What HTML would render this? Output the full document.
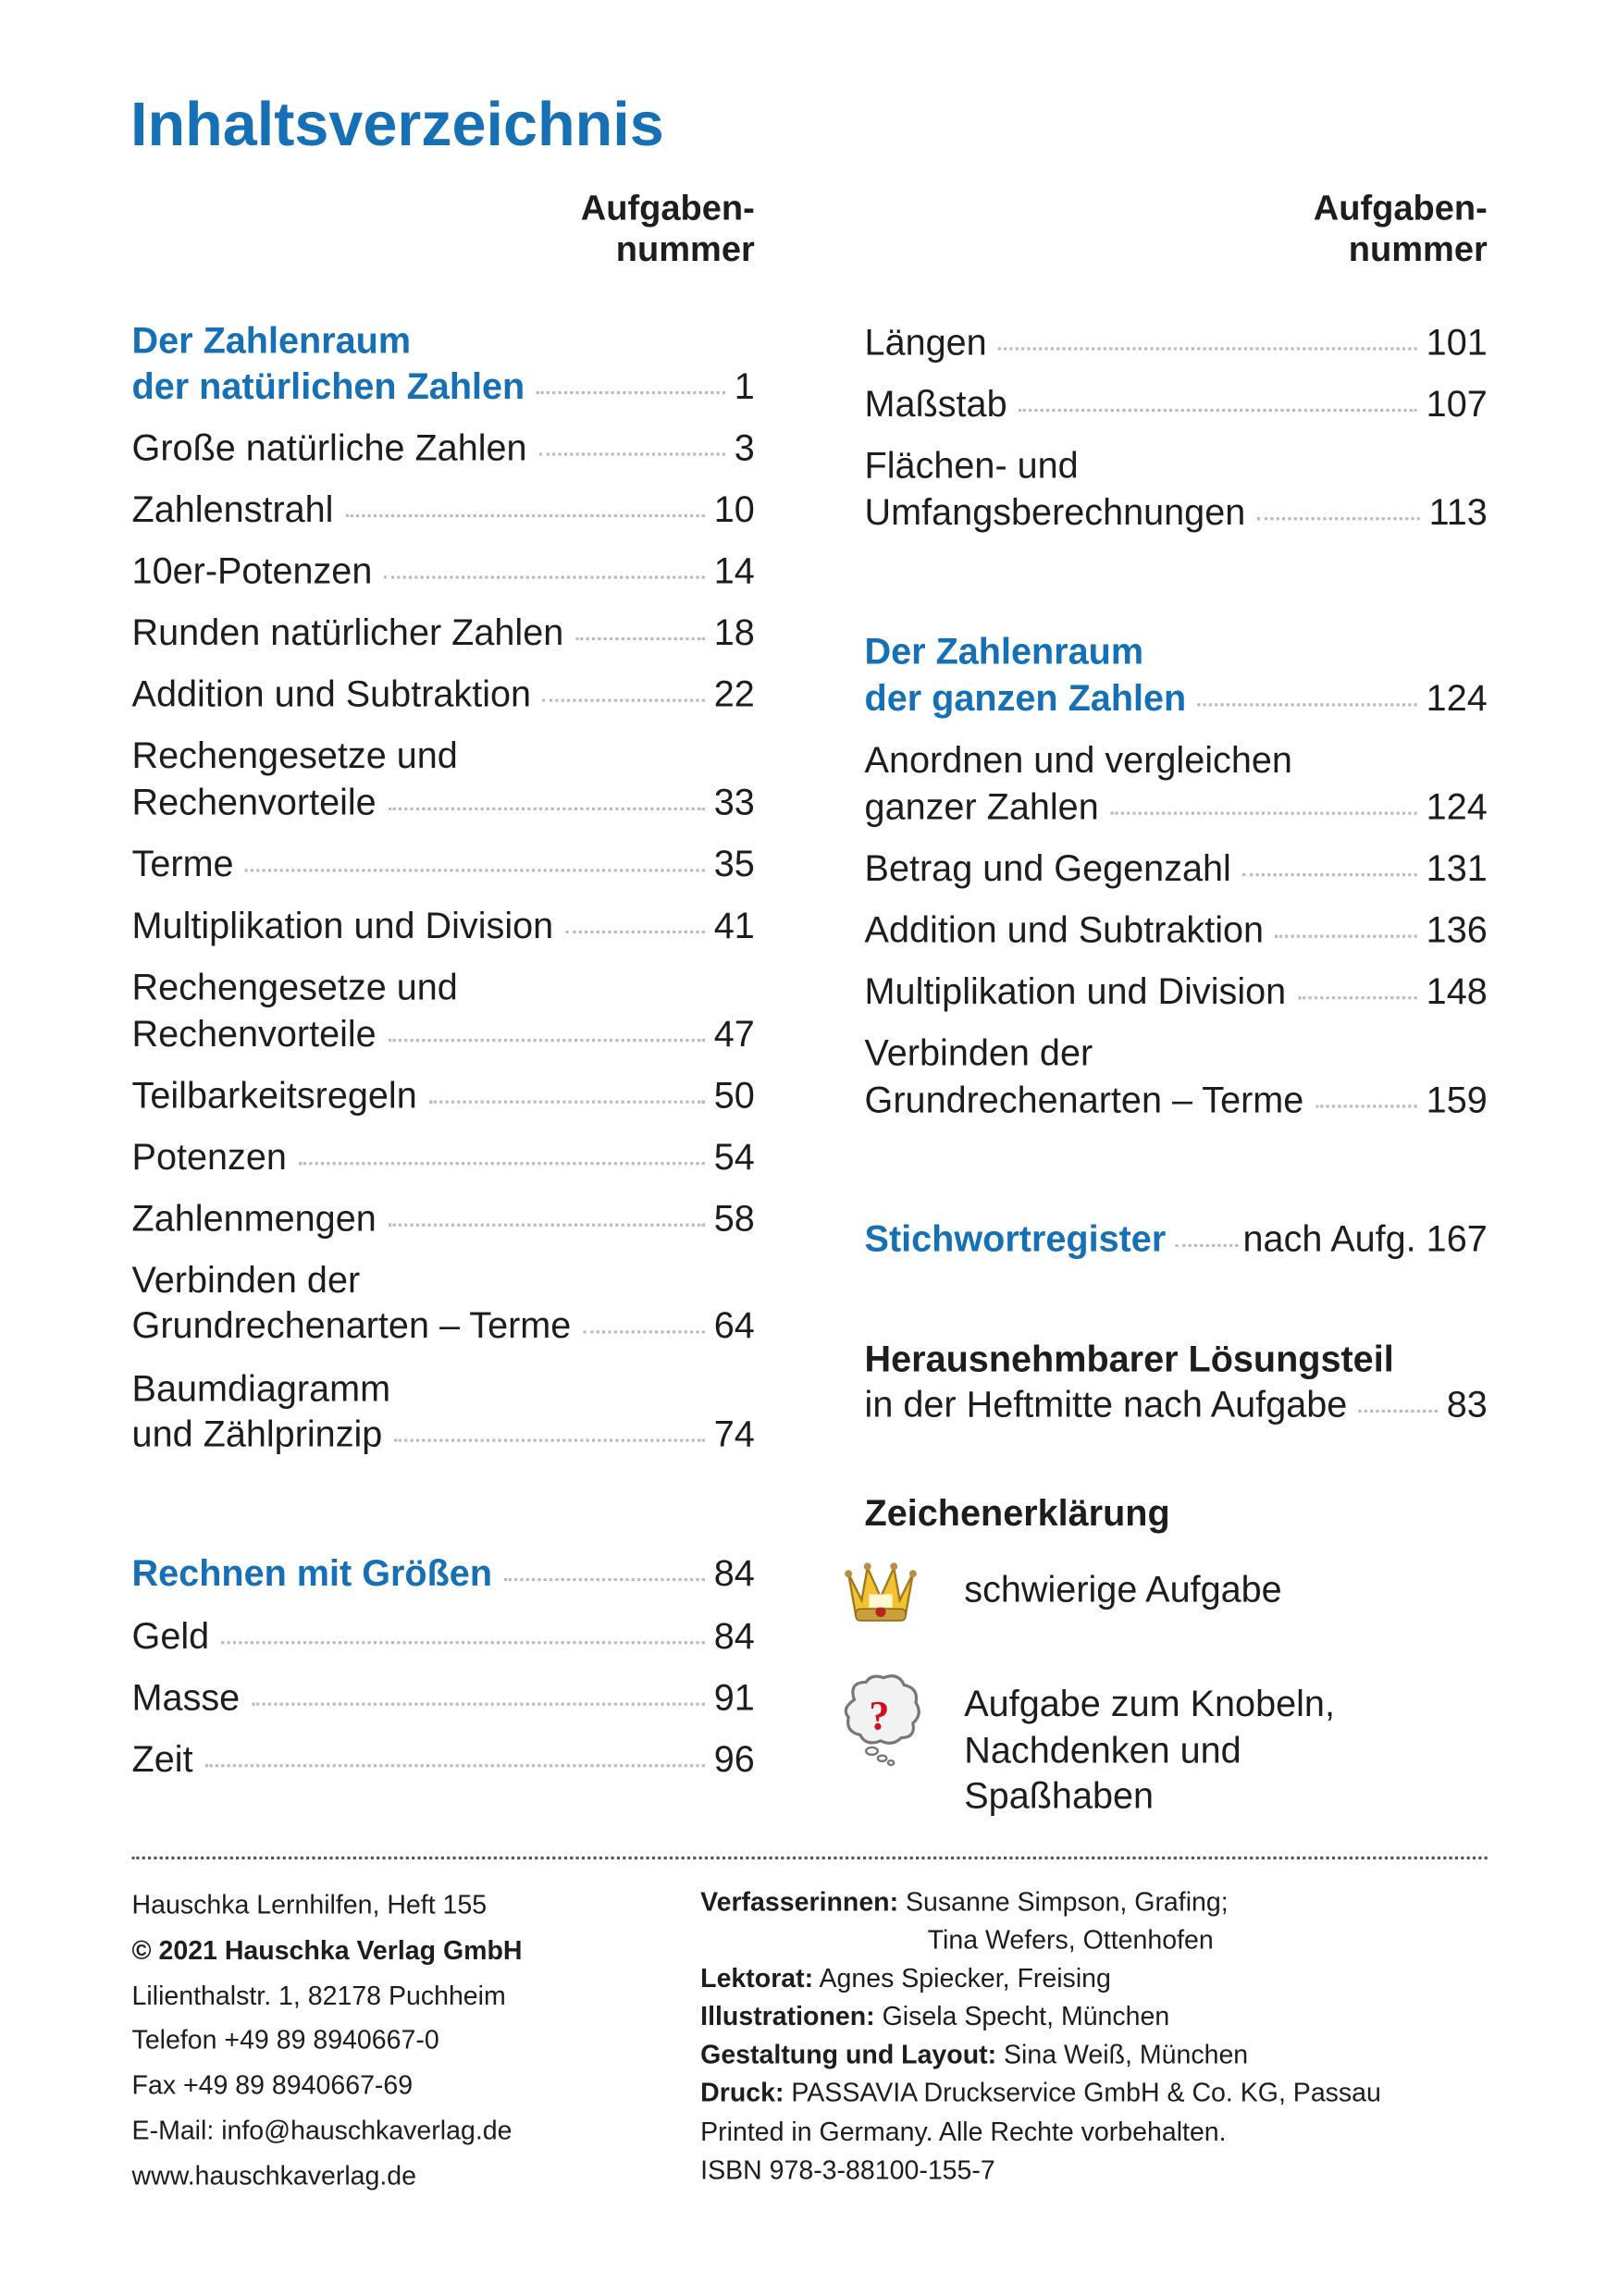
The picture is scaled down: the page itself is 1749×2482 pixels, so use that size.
<!DOCTYPE html>
<html><head><meta charset="utf-8"><style>
html,body{margin:0;padding:0;background:#fff;}
body{width:1749px;height:2481px;overflow:hidden;}
#p{position:absolute;left:0;top:0;width:1100px;height:1567px;transform:scale(1.584);transform-origin:0 0;font-family:"Liberation Sans",sans-serif;color:#1d1d1b;}
.a{position:absolute;white-space:nowrap;}
.r{position:absolute;display:flex;align-items:baseline;font-size:25px;line-height:25px;white-space:nowrap;}
.L{left:90px;width:425px;}
.R{left:590px;width:425px;}
.d{flex:1;border-bottom:2px dotted #bbb;margin:0 6px 0 8px;height:1px;transform:translateY(-3px);}
.t{font-size:25px;line-height:25px;}
.b{color:#1670b6;font-weight:bold;}
.h{font-weight:bold;font-size:24px;line-height:24px;text-align:right;}
.f{font-size:18px;line-height:18px;}
</style></head><body><div id="p">
<div class="a b" style="left:89px;top:64px;font-size:42px;line-height:42px;">Inhaltsverzeichnis</div>

<div class="a h" style="right:585px;top:131px;">Aufgaben-<br><span style="display:inline-block;margin-top:4px">nummer</span></div>
<div class="a h" style="right:85px;top:131px;">Aufgaben-<br><span style="display:inline-block;margin-top:4px">nummer</span></div>

<div class="a t b" style="left:90px;top:221px;">Der Zahlenraum</div>
<div class="r L" style="top:252px;"><span class="b">der natürlichen Zahlen</span><span class="d"></span><span>1</span></div>
<div class="r L" style="top:294px;"><span>Große natürliche Zahlen</span><span class="d"></span><span>3</span></div>
<div class="r L" style="top:336px;"><span>Zahlenstrahl</span><span class="d"></span><span>10</span></div>
<div class="r L" style="top:378px;"><span>10er-Potenzen</span><span class="d"></span><span>14</span></div>
<div class="r L" style="top:420px;"><span>Runden natürlicher Zahlen</span><span class="d"></span><span>18</span></div>
<div class="r L" style="top:462px;"><span>Addition und Subtraktion</span><span class="d"></span><span>22</span></div>
<div class="a t" style="left:90px;top:504px;">Rechengesetze und</div>
<div class="r L" style="top:536px;"><span>Rechenvorteile</span><span class="d"></span><span>33</span></div>
<div class="r L" style="top:578px;"><span>Terme</span><span class="d"></span><span>35</span></div>
<div class="r L" style="top:620px;"><span>Multiplikation und Division</span><span class="d"></span><span>41</span></div>
<div class="a t" style="left:90px;top:662px;">Rechengesetze und</div>
<div class="r L" style="top:694px;"><span>Rechenvorteile</span><span class="d"></span><span>47</span></div>
<div class="r L" style="top:736px;"><span>Teilbarkeitsregeln</span><span class="d"></span><span>50</span></div>
<div class="r L" style="top:778px;"><span>Potenzen</span><span class="d"></span><span>54</span></div>
<div class="r L" style="top:820px;"><span>Zahlenmengen</span><span class="d"></span><span>58</span></div>
<div class="a t" style="left:90px;top:862px;">Verbinden der</div>
<div class="r L" style="top:893px;"><span>Grundrechenarten – Terme</span><span class="d"></span><span>64</span></div>
<div class="a t" style="left:90px;top:936px;">Baumdiagramm</div>
<div class="r L" style="top:967px;"><span>und Zählprinzip</span><span class="d"></span><span>74</span></div>
<div class="r L" style="top:1062px;"><span class="b">Rechnen mit Größen</span><span class="d"></span><span>84</span></div>
<div class="r L" style="top:1105px;"><span>Geld</span><span class="d"></span><span>84</span></div>
<div class="r L" style="top:1147px;"><span>Masse</span><span class="d"></span><span>91</span></div>
<div class="r L" style="top:1189px;"><span>Zeit</span><span class="d"></span><span>96</span></div>

<div class="r R" style="top:222px;"><span>Längen</span><span class="d"></span><span>101</span></div>
<div class="r R" style="top:264px;"><span>Maßstab</span><span class="d"></span><span>107</span></div>
<div class="a t" style="left:590px;top:306px;">Flächen- und</div>
<div class="r R" style="top:338px;"><span>Umfangsberechnungen</span><span class="d"></span><span>113</span></div>
<div class="a t b" style="left:590px;top:433px;">Der Zahlenraum</div>
<div class="r R" style="top:465px;"><span class="b">der ganzen Zahlen</span><span class="d"></span><span>124</span></div>
<div class="a t" style="left:590px;top:507px;">Anordnen und vergleichen</div>
<div class="r R" style="top:539px;"><span>ganzer Zahlen</span><span class="d"></span><span>124</span></div>
<div class="r R" style="top:581px;"><span>Betrag und Gegenzahl</span><span class="d"></span><span>131</span></div>
<div class="r R" style="top:623px;"><span>Addition und Subtraktion</span><span class="d"></span><span>136</span></div>
<div class="r R" style="top:665px;"><span>Multiplikation und Division</span><span class="d"></span><span>148</span></div>
<div class="a t" style="left:590px;top:707px;">Verbinden der</div>
<div class="r R" style="top:739px;"><span>Grundrechenarten – Terme</span><span class="d"></span><span>159</span></div>
<div class="r R" style="top:834px;"><span class="b">Stichwortregister</span><span class="d" style="margin:0 3px 0 6px"></span><span>nach Aufg. 167</span></div>
<div class="a t" style="left:590px;top:916px;font-weight:bold;">Herausnehmbarer Lösungsteil</div>
<div class="r R" style="top:947px;"><span>in der Heftmitte nach Aufgabe</span><span class="d"></span><span>83</span></div>
<div class="a t" style="left:590px;top:1021px;font-weight:bold;">Zeichenerklärung</div>

<svg class="a" style="left:574px;top:1062px;" width="54" height="48" viewBox="0 0 54 48">
<path d="M5 12 L14 30 L18 8 L27 28 L36 8 L40 30 L49 12 L44 40 L10 40 Z" fill="#f2c230" stroke="#a07a20" stroke-width="1.5"/>
<rect x="10" y="36" width="34" height="8" rx="3" fill="#c9a03a" stroke="#8a6a20"/>
<circle cx="27" cy="38" r="3.5" fill="#b22"/>
<circle cx="5" cy="12" r="2.5" fill="#b89040"/><circle cx="18" cy="7" r="2.5" fill="#b89040"/><circle cx="36" cy="7" r="2.5" fill="#b89040"/><circle cx="49" cy="12" r="2.5" fill="#b89040"/>
<rect x="19" y="26" width="16" height="9" fill="#fff8d0"/>
</svg>
<div class="a t" style="left:658px;top:1073px;">schwierige Aufgabe</div>

<svg class="a" style="left:573px;top:1140px;" width="58" height="70" viewBox="0 0 58 70">
<path d="M10 20 Q6 8 18 8 Q22 2 30 5 Q40 1 44 10 Q54 12 52 22 Q57 30 50 36 Q52 46 42 46 Q36 52 28 48 Q18 52 14 44 Q4 42 6 32 Q1 26 10 20 Z" fill="#f2f2f2" stroke="#777" stroke-width="2"/>
<text x="20" y="40" font-family="Liberation Serif,serif" font-weight="bold" font-size="28" fill="#d01020">?</text>
<ellipse cx="22" cy="55" rx="4" ry="2.5" fill="none" stroke="#777" stroke-width="1.5"/>
<ellipse cx="29" cy="60" rx="3" ry="2" fill="none" stroke="#777" stroke-width="1.5"/>
<ellipse cx="35" cy="63" rx="2" ry="1.5" fill="none" stroke="#777" stroke-width="1.5"/>
</svg>
<div class="a t" style="left:658px;top:1148px;line-height:31.5px;">Aufgabe zum Knobeln,<br>Nachdenken und<br>Spaßhaben</div>

<div class="a" style="left:90px;top:1267px;width:925px;border-top:2px dotted #555;"></div>

<div class="a f" style="left:90px;top:1285px;line-height:30.8px;">Hauschka Lernhilfen, Heft 155<br><b>© 2021 Hauschka Verlag GmbH</b><br>Lilienthalstr. 1, 82178 Puchheim<br>Telefon +49 89 8940667-0<br>Fax +49 89 8940667-69<br>E-Mail: info@hauschkaverlag.de<br>www.hauschkaverlag.de</div>
<div class="a f" style="left:478px;top:1285px;line-height:26.1px;"><b>Verfasserinnen:</b> Susanne Simpson, Grafing;<br><span style="padding-left:155px">Tina Wefers, Ottenhofen</span><br><b>Lektorat:</b> Agnes Spiecker, Freising<br><b>Illustrationen:</b> Gisela Specht, München<br><b>Gestaltung und Layout:</b> Sina Weiß, München<br><b>Druck:</b> PASSAVIA Druckservice GmbH &amp; Co. KG, Passau<br>Printed in Germany. Alle Rechte vorbehalten.<br>ISBN 978-3-88100-155-7</div>
</div></body></html>
